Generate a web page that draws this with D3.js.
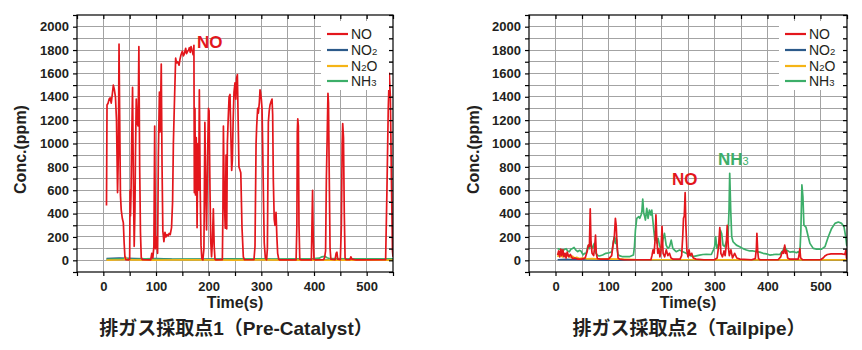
<!DOCTYPE html>
<html><head><meta charset="utf-8">
<script src="https://cdn.jsdelivr.net/npm/d3@7"></script>
<style>body{margin:0;background:#fff;} svg{display:block;}</style>
</head><body><svg id="c" width="862" height="350"></svg>
<script>
// ---------- DATA ----------
const xTickLabels = [0,100,200,300,400,500];
const yTickLabels = [0,200,400,600,800,1000,1200,1400,1600,1800,2000];
const seriesNames = ["NO","NO2","N2O","NH3"];
const panelTitles = ["排ガス採取点1（Pre-Catalyst）","排ガス採取点2（Tailpipe）"];

// Pre-Catalyst [time(s), ppm]
const preNO = [[6,470],[7,1330],[9,1345],[11,1380],[13,1390],[15,1345],[17,1420],[19,1500],[21,1460],[23,1400],[25,1200],[27,580],[28.5,900],[29.8,1850],[31,1250],[32.5,560],[34,430],[36,360],[38,320],[39.5,150],[41,30],[43,5],[48,3],[50,10],[50.8,600],[51.5,380],[52.5,560],[53.8,1000],[55.5,1480],[57,700],[58.6,120],[60,420],[61,900],[62.5,1380],[64,1180],[66,1150],[67.5,1830],[69,800],[70.5,240],[72,25],[74,5],[90,3],[92,60],[94,20],[96,120],[97.5,1150],[99,100],[101,200],[103,60],[104.5,900],[106.5,1440],[108,1100],[110,1680],[111.5,800],[113,250],[115,160],[117,240],[119,200],[121,220],[123,210],[125,230],[127,220],[129.5,280],[131.5,500],[133,1000],[134.7,1300],[137.3,1730],[139,1690],[141,1700],[143.8,1670],[145.5,1720],[147.5,1760],[150,1790],[152,1750],[153.2,1760],[155,1790],[156.4,1815],[158,1770],[160.2,1790],[162,1800],[163.3,1820],[165,1780],[166.5,1830],[168,1800],[169,1790],[170.5,1760],[172,1840],[172.8,580],[174,1300],[175,560],[176.5,1050],[178,280],[179.5,1000],[181,600],[182.3,1460],[184,580],[185.5,130],[187,15],[189,3],[191,100],[192.8,1180],[194.5,580],[196,260],[198,900],[199.6,1300],[200.8,1280],[202.5,600],[204,160],[205.5,30],[207,150],[208.9,440],[210.5,120],[212,10],[214,3],[226,5],[227,400],[228,1150],[229.5,560],[231.5,275],[233,900],[234.3,270],[235.5,1000],[237,1200],[238.8,1400],[240.5,1420],[242,1100],[243.7,770],[245,860],[246.5,1200],[248.1,1440],[250,1520],[251.5,1380],[253,1560],[254.5,1590],[256,1200],[257.5,800],[259,780],[261,750],[263.3,280],[265.8,30],[268,5],[286,5],[288,120],[290,1000],[291.2,1150],[293,1300],[294.3,1260],[296.2,1350],[297.5,1460],[298.5,1440],[300,1380],[301.3,1300],[302.5,1000],[303.8,600],[305.5,150],[307.6,20],[310,5],[311.5,100],[313.3,1180],[315,1280],[316.5,1330],[318.5,1360],[320.3,1380],[321.5,1250],[322.8,680],[324.5,350],[326,300],[327.9,410],[329.5,200],[331,60],[333,10],[335,3],[366,3],[367.5,300],[368.3,1100],[369.2,1210],[370.3,1150],[371.5,300],[373,10],[376,3],[395,3],[396.5,400],[397.3,600],[398.5,200],[400,10],[403,3],[418,5],[420,20],[422,80],[423.5,700],[425,1050],[426.5,1430],[427.5,1350],[429,700],[430.5,100],[432,10],[440,5],[442,60],[443.5,70],[445,10],[450,5],[452,300],[453.5,1000],[454.5,1170],[456,1050],[457.5,400],[459,20],[461,5],[468,5],[470,30],[472,10],[480,3],[536,5],[538.5,600],[541,1300],[543,1600],[545,1400],[547,700],[549,80],[550,30]];
const preNO2 = [[6,15],[30,18],[60,15],[80,12],[100,15],[130,10],[160,8],[200,10],[240,12],[280,10],[320,8],[360,6],[400,5],[450,5],[500,5],[550,5]];
const preN2O = [[6,2],[40,5],[42,30],[44,8],[50,3],[100,2],[150,5],[200,3],[250,2],[300,4],[350,2],[400,2],[500,2],[550,2]];
const preNH3 = [[6,8],[20,10],[40,12],[60,8],[80,12],[100,10],[130,8],[160,10],[200,8],[240,10],[280,12],[320,10],[360,12],[400,14],[410,18],[415,30],[420,34],[425,22],[430,14],[460,12],[500,12],[550,12]];

// Tailpipe [time(s), ppm]
const tailNO = [[4,45],[6,80],[8,30],[10,95],[12,40],[14,90],[16,30],[18,60],[20,20],[22,70],[25,30],[28,50],[32,15],[36,20],[42,10],[50,10],[56,20],[60,80],[62,130],[64,120],[65.5,440],[67,150],[69,60],[72,40],[74,120],[75.5,215],[77,60],[79,15],[85,10],[100,10],[106,40],[109,150],[111,200],[113,360],[114.5,300],[116,150],[118,20],[121,10],[130,5],[150,5],[180,5],[182,40],[184,90],[186,60],[188,180],[189.5,390],[191,200],[193,60],[195,100],[197,30],[199,80],[201,290],[203,60],[206,30],[209,90],[212,40],[215,60],[218,20],[222,10],[235,10],[238,40],[240,200],[241.5,360],[243,380],[244.6,580],[246,300],[248,80],[250,30],[252,90],[254,40],[257,60],[260,20],[265,10],[280,5],[300,5],[305,20],[308,130],[310,280],[312,60],[315,30],[318,80],[320,40],[322,120],[324,300],[326,120],[328,40],[331,90],[334,20],[338,60],[342,20],[348,10],[370,5],[377,15],[379,100],[380,231],[381.5,80],[383,15],[386,5],[420,5],[425,30],[428,75],[430,60],[432.5,130],[434,60],[436,80],[438,20],[442,10],[458,10],[460,60],[461,100],[462.5,20],[466,5],[500,5],[505,20],[509,40],[513,50],[520,55],[530,55],[540,55],[546,50],[548,88],[549,20],[550,10]];
const tailNO2 = [[4,5],[20,8],[40,5],[60,3],[100,2],[200,2],[300,2],[550,2]];
const tailN2O = [[4,30],[6,50],[8,35],[10,45],[13,30],[16,45],[20,35],[24,40],[28,25],[32,35],[36,20],[40,25],[45,15],[50,20],[60,12],[70,15],[80,10],[100,12],[120,10],[150,6],[200,5],[250,5],[300,4],[400,3],[500,3],[550,3]];
const tailNH3 = [[4,100],[8,95],[13,88],[17,92],[20,100],[23,80],[26,74],[29,95],[32,102],[35,110],[38,90],[42,74],[45,85],[48,80],[52,47],[55,60],[58,60],[61,120],[62.5,130],[64,100],[66.8,159],[68,120],[70,102],[72,130],[73.1,145],[75,80],[76.3,60],[80,40],[82.6,37],[88.9,46],[95,60],[101.5,65],[106.6,74],[108,120],[109.1,159],[110,180],[111,202],[112,160],[113,145],[114,190],[115.4,173],[116.5,90],[118,50],[120.5,40],[126.8,31],[139.4,31],[147,45],[149,120],[150.8,259],[153.3,359],[157.1,374],[159,360],[161.5,388],[163,420],[164.6,525],[166.5,402],[168,380],[169.7,345],[172.2,445],[174.7,359],[177.2,430],[179.8,388],[181.7,430],[183.6,345],[185.5,259],[187.4,173],[188.6,245],[190,190],[191.1,150],[193.6,188],[196.2,130],[199.3,88],[202.5,173],[205.6,230],[208.8,130],[212,102],[215.1,116],[218.3,173],[221.4,102],[224.6,88],[227.7,74],[234,88],[240.4,74],[246.7,60],[253,45],[259.3,31],[265.6,38],[271.9,45],[278.2,50],[284.5,52],[294,50],[298,90],[300.3,117],[302.2,202],[304.7,102],[308.5,145],[311,259],[313.5,230],[316.1,130],[319.2,117],[322.4,159],[325.5,202],[327.4,430],[328.7,745],[330.6,430],[332.5,202],[335,159],[341.3,130],[347.6,117],[353.9,100],[360.2,88],[366.5,80],[372.8,80],[379.1,74],[385.4,70],[391.7,60],[398,55],[404.3,45],[410.6,48],[416.9,52],[423.3,50],[429.6,88],[432.7,116],[435.9,88],[442.2,70],[448.5,74],[454.8,65],[457.9,74],[461.1,60],[463,260],[464.9,645],[466.8,545],[468.7,302],[472.5,285],[476.9,202],[480,145],[486.3,102],[492.6,96],[502.1,96],[508.4,117],[514.7,202],[521,273],[527.3,316],[533.6,328],[539.9,316],[544.3,288],[547.5,202],[549.4,130],[550,120]];

// ---------- STYLE ----------
const colors = {NO:"#e3161c", NO2:"#2c5a8a", N2O:"#f5b416", NH3:"#3cae69"};
const ink = "#231f20";
const gridColor = "#a3a3a3";
const fontLatin = "'Liberation Sans', Arial, sans-serif";
const fontTitle = "'Liberation Sans', 'Noto Sans CJK JP', sans-serif";

const svg = d3.select("#c");

function panel(cfg) {
  const {left, right, top, bottom, data, idx} = cfg;
  const g = svg.append("g");
  const x = d3.scaleLinear().domain([-50, 550]).range([left, right]);
  const y = d3.scaleLinear().domain([-100, 2100]).range([bottom, top]);

  const clipId = "clip" + idx;
  svg.append("clipPath").attr("id", clipId).append("rect")
    .attr("x", left).attr("y", top).attr("width", right - left).attr("height", bottom - top);

  // grid
  const xg = d3.range(0, 550, 50);
  const yg = d3.range(0, 2001, 100);
  g.append("g").selectAll("line").data(xg).join("line")
    .attr("x1", d => x(d)).attr("x2", d => x(d)).attr("y1", top).attr("y2", bottom)
    .attr("stroke", gridColor).attr("stroke-width", 1).attr("shape-rendering", "crispEdges");
  g.append("g").selectAll("line").data(yg).join("line")
    .attr("y1", d => y(d)).attr("y2", d => y(d)).attr("x1", left).attr("x2", right)
    .attr("stroke", gridColor).attr("stroke-width", 1).attr("shape-rendering", "crispEdges");

  // series
  const line = d3.line().x(d => x(d[0])).y(d => y(d[1]));
  const plot = g.append("g").attr("clip-path", `url(#${clipId})`);
  ["NO2", "NH3", "N2O", "NO"].forEach(k => {
    plot.append("path").datum(data[k]).attr("d", line)
      .attr("fill", "none").attr("stroke", colors[k]).attr("stroke-width", 1.7)
      .attr("stroke-linejoin", "round");
  });

  // legend box
  const lg = g.append("g");
  lg.append("rect").attr("x", cfg.legX - 6).attr("y", top + 6).attr("width", right - cfg.legX + 2)
    .attr("height", 69).attr("fill", "#fff");
  const legRows = [34, 50, 66, 81];
  const legParts = [
    [{t:"NO"}],
    [{t:"NO"},{t:"2",sub:true}],
    [{t:"N"},{t:"2",sub:true},{t:"O"}],
    [{t:"NH"},{t:"3",sub:true}]
  ];
  seriesNames.forEach((k, i) => {
    lg.append("line").attr("x1", cfg.legX).attr("x2", cfg.legX + 21)
      .attr("y1", legRows[i]).attr("y2", legRows[i])
      .attr("stroke", colors[k]).attr("stroke-width", 2.2);
    const t = lg.append("text").attr("x", cfg.legX + 24).attr("y", legRows[i] + 5)
      .attr("font-family", fontLatin).attr("font-size", 14).attr("fill", ink);
    legParts[i].forEach(p => {
      t.append("tspan").text(p.t)
        .attr("font-size", p.sub ? 9.5 : 14);
    });
  });

  // frame
  g.append("rect").attr("x", left).attr("y", top).attr("width", right - left).attr("height", bottom - top)
    .attr("fill", "none").attr("stroke", "#000").attr("stroke-width", 1.2);

  // bottom axis
  const xAxis = d3.axisBottom(x).tickValues(d3.range(-50, 551, 50)).tickSize(4).tickSizeOuter(0)
    .tickFormat(d => xTickLabels.includes(d) ? d : "");
  const ax = g.append("g").attr("transform", `translate(0,${bottom})`).call(xAxis);
  ax.select(".domain").remove();
  ax.selectAll("line").attr("stroke", "#000").attr("stroke-width", 1.2);
  ax.selectAll("text").attr("font-family", fontLatin).attr("font-weight", "bold")
    .attr("font-size", 13).attr("fill", ink).attr("dy", "0.71em").attr("y", 10);

  // left axis
  const yAxis = d3.axisLeft(y).tickValues(d3.range(-100, 2101, 100)).tickSize(4).tickSizeOuter(0)
    .tickFormat(d => yTickLabels.includes(d) ? d : "");
  const ay = g.append("g").attr("transform", `translate(${left},0)`).call(yAxis);
  ay.select(".domain").remove();
  ay.selectAll("line").attr("stroke", "#000").attr("stroke-width", 1.2);
  ay.selectAll("text").attr("font-family", fontLatin).attr("font-weight", "bold")
    .attr("font-size", 13).attr("fill", ink).attr("x", -8);

  // mirrored inner ticks (top, right)
  const topAxis = d3.axisBottom(x).tickValues(d3.range(-50, 551, 50)).tickSize(4).tickSizeOuter(0).tickFormat("");
  const at = g.append("g").attr("transform", `translate(0,${top})`).call(topAxis);
  at.select(".domain").remove();
  at.selectAll("line").attr("stroke", "#000").attr("stroke-width", 1.2);
  const rightAxis = d3.axisLeft(y).tickValues(d3.range(-100, 2101, 100)).tickSize(4).tickSizeOuter(0).tickFormat("");
  const ar = g.append("g").attr("transform", `translate(${right},0)`).call(rightAxis);
  ar.select(".domain").remove();
  ar.selectAll("line").attr("stroke", "#000").attr("stroke-width", 1.2);

  // axis titles
  g.append("text").attr("x", (left + right) / 2).attr("y", 308).attr("text-anchor", "middle")
    .attr("font-family", fontLatin).attr("font-weight", "bold").attr("font-size", 16).attr("fill", ink)
    .text("Time(s)");
  g.append("text").attr("transform", `translate(${cfg.yTitleX},${(top + bottom) / 2 + 6}) rotate(-90)`)
    .attr("text-anchor", "middle").attr("dominant-baseline", "central")
    .attr("font-family", fontLatin).attr("font-weight", "bold").attr("font-size", 16).attr("fill", ink)
    .text("Conc.(ppm)");
  g.append("text").attr("x", (left + right) / 2 + 1).attr("y", 335).attr("text-anchor", "middle")
    .attr("font-family", fontTitle).attr("font-weight", "bold").attr("font-size", 19).attr("fill", ink)
    .text(panelTitles[idx]);

  return {g, x, y};
}

const p1 = panel({idx:0, left:77, right:393, top:15, bottom:272, legX:327, yTitleX:20,
  data:{NO:preNO, NO2:preNO2, N2O:preN2O, NH3:preNH3}});
const p2 = panel({idx:1, left:529, right:847, top:15, bottom:272, legX:785, yTitleX:473,
  data:{NO:tailNO, NO2:tailNO2, N2O:tailN2O, NH3:tailNH3}});

// annotations
p1.g.append("text").attr("x", 197).attr("y", 48)
  .attr("font-family", fontLatin).attr("font-weight", "bold").attr("font-size", 17)
  .attr("fill", colors.NO).text("NO");
p2.g.append("text").attr("x", 672).attr("y", 185)
  .attr("font-family", fontLatin).attr("font-weight", "bold").attr("font-size", 17)
  .attr("fill", colors.NO).text("NO");
const nh = p2.g.append("text").attr("x", 718).attr("y", 165)
  .attr("font-family", fontLatin).attr("font-weight", "bold").attr("font-size", 17)
  .attr("fill", colors.NH3);
nh.append("tspan").text("NH");
nh.append("tspan").attr("font-size", 11).attr("font-weight", "normal").text("3");
</script></body></html>
